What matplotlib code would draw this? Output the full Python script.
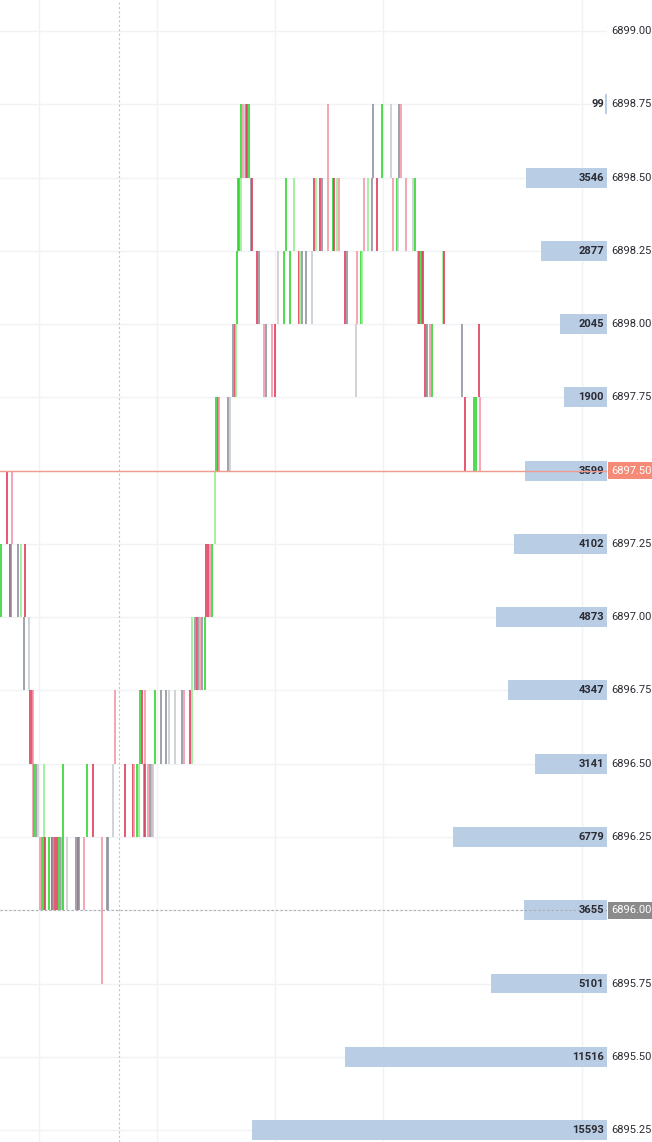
import matplotlib.pyplot as plt

plt.rcParams['font.family'] = ['Roboto', 'DejaVu Sans']

# price axis labels
price_levels = [6895.25, 6895.50, 6895.75, 6896.00, 6896.25, 6896.50, 6896.75, 6897.00,
                6897.25, 6897.50, 6897.75, 6898.00, 6898.25, 6898.50, 6898.75, 6899.00]

# volume profile
vol_prices = [6898.75, 6898.50, 6898.25, 6898.00, 6897.75, 6897.50, 6897.25, 6897.00,
              6896.75, 6896.50, 6896.25, 6896.00, 6895.75, 6895.50, 6895.25]
vol_sizes = [99, 3546, 2877, 2045, 1900, 3599, 4102, 4873,
             4347, 3141, 6779, 3655, 5101, 11516, 15593]

last_price = 6897.50
cross_price = 6896.00
cross_x = 119
time_grid = [38.7, 157, 274.5, 382.7, 581.7]

# ticks per band (lower price of the band): (x, kind)
# G/g = buy strong/light, R/r = sell strong/light, K/k = neutral strong/light
ticks_689850 = [(241.3, 'G'), (243, 'r'), (244.7, 'k'), (246.3, 'K'), (247.3, 'R'), (248.5, 'G'),
                (328.3, 'r'), (373, 'K'), (382.3, 'G'), (390.7, 'k'), (399, 'K'), (401, 'r')]
ticks_689825 = [(237.7, 'G'), (239.3, 'G'), (240.7, 'g'), (251, 'K'), (252.3, 'R'), (285.7, 'G'),
                (293.7, 'g'), (314, 'R'), (316.3, 'g'), (320, 'R'), (321.7, 'K'), (328, 'r'),
                (332.7, 'G'), (333.7, 'R'), (336.7, 'g'), (338.7, 'r'), (364, 'r'), (367.7, 'g'),
                (372, 'K'), (377.3, 'R'), (392.7, 'r'), (396.7, 'G'), (397.5, 'k'), (406, 'r'),
                (413.3, 'k'), (415.3, 'G')]
ticks_689800 = [(236.7, 'G'), (256.7, 'R'), (259.3, 'K'), (278, 'k'), (284.3, 'G'), (290, 'G'),
                (298.7, 'R'), (300, 'g'), (301.7, 'K'), (306, 'K'), (311.7, 'k'), (345.3, 'R'),
                (346.7, 'K'), (356.7, 'r'), (361, 'G'), (362.3, 'g'), (418, 'r'), (419.3, 'R'),
                (420.7, 'G'), (422, 'K'), (423.3, 'R'), (442.7, 'g'), (444, 'R')]
ticks_689775 = [(232.7, 'K'), (234.7, 'R'), (236, 'g'), (264, 'r'), (266, 'K'), (272, 'r'),
                (275, 'R'), (355.7, 'k'), (425.3, 'R'), (426.3, 'G'), (427.3, 'K'), (429.7, 'r'),
                (432, 'G'), (462, 'K'), (479.3, 'R')]
ticks_689750 = [(215.7, 'G'), (218.3, 'R'), (219.3, 'r'), (228, 'K'), (230.3, 'k'),
                (465.3, 'R'), (474, 'G'), (476, 'G'), (480, 'r')]
ticks_689725 = [(7.3, 'R'), (11.7, 'r'), (215, 'g')]
ticks_689700 = [(1.3, 'G'), (10, 'R'), (11, 'K'), (17.7, 'K'), (20.7, 'g'), (25.3, 'R'),
                (206, 'R'), (208.3, 'R'), (210, 'r'), (212.3, 'G')]
ticks_689675 = [(24.3, 'K'), (29, 'k'), (192.3, 'g'), (195, 'K'), (196.7, 'R'), (198.3, 'K'),
                (200, 'r'), (201.7, 'K'), (205, 'G')]
ticks_689650 = [(30, 'R'), (31.7, 'R'), (33.3, 'r'), (115, 'r'), (140, 'G'), (141.7, 'R'),
                (145, 'r'), (155.3, 'G'), (160.7, 'K'), (166, 'K'), (169, 'k'), (174.7, 'k'),
                (182, 'K'), (184, 'r'), (190, 'R'), (192.3, 'g')]
ticks_689625 = [(33.3, 'r'), (34.3, 'G'), (36, 'K'), (37.7, 'k'), (44.3, 'g'), (63.3, 'G'),
                (87.3, 'G'), (93.3, 'R'), (112.7, 'k'), (125.3, 'R'), (132.7, 'R'), (134, 'r'),
                (137.3, 'G'), (139.3, 'g'), (144, 'K'), (145.3, 'R'), (148, 'r'), (150, 'K'),
                (151.7, 'r'), (153.3, 'k')]
ticks_689600 = [(40, 'r'), (42.3, 'G'), (43.7, 'G'), (45, 'R'), (49.3, 'G'), (51.7, 'R'),
                (53.3, 'K'), (55, 'R'), (57.3, 'R'), (58.7, 'G'), (60.7, 'K'), (62, 'k'),
                (63.3, 'G'), (67.3, 'k'), (76, 'K'), (78, 'R'), (79, 'K'), (84, 'r'),
                (101.7, 'r'), (107.3, 'K'), (108.3, 'K')]
ticks_689575 = [(101.7, 'r')]

bands = [(6898.50, ticks_689850), (6898.25, ticks_689825), (6898.00, ticks_689800),
         (6897.75, ticks_689775), (6897.50, ticks_689750), (6897.25, ticks_689725),
         (6897.00, ticks_689700), (6896.75, ticks_689675), (6896.50, ticks_689650),
         (6896.25, ticks_689625), (6896.00, ticks_689600), (6895.75, ticks_689575)]

colors = {'G': '#2fd52f', 'g': '#93ef8f', 'R': '#e23a5a', 'r': '#f396a8',
          'K': '#8e929c', 'k': '#c9cbd0'}

fig = plt.figure(figsize=(6.52, 11.42), dpi=100)
ax = fig.add_axes([0, 0, 607 / 652, 1])
ax.set_xlim(0, 607)
ax.set_ylim(6895.2092, 6899.1058)
ax.axis('off')

# grid
for p in price_levels:
    ax.axhline(p, color='#f0f2f5', lw=1, zorder=0)
for x in time_grid:
    ax.axvline(x, color='#f0f2f5', lw=1, zorder=0)
ax.axvline(607, color='#e6e8ec', lw=0.8, zorder=0)

# ticks
for low, ticks in bands:
    for x, k in ticks:
        ax.vlines(x, low, low + 0.25, colors=colors[k], lw=1.2, zorder=2)

ax.axvline(cross_x, color='#c4c6cc', lw=0.8, ls=(0, (2, 2)), zorder=1)

# volume profile on a twin axis growing from the right edge
ax2 = ax.twiny()
ax2.set_xlim(26660, 0)
ax2.axis('off')
ax2.barh(vol_prices, vol_sizes, height=0.068, color='#b9cde5', zorder=1)
for p, v in zip(vol_prices, vol_sizes):
    ax2.text(604, p, str(v), transform=ax.transData, ha='right', va='center', fontsize=8,
             color='#2b2b33', fontweight='bold', zorder=5)

ax2.axhline(cross_price, color='#a9acb3', lw=0.8, ls=(0, (2, 2)), zorder=2)
ax2.axhline(last_price, color='#f39a8f', lw=1.0, zorder=6)

# price labels
for p in price_levels:
    kw = dict(ha='left', va='center', fontsize=8, color='#2b2b33', clip_on=False)
    if p == last_price:
        kw.update(color='white', bbox=dict(boxstyle='square,pad=0.3', fc='#f58a77', ec='none'))
    elif p == cross_price:
        kw.update(color='white', bbox=dict(boxstyle='square,pad=0.3', fc='#8b8b8b', ec='none'))
    ax2.text(611, p, f'{p:.2f}', transform=ax.transData, zorder=7, **kw)

plt.savefig('out.png', dpi=100)
